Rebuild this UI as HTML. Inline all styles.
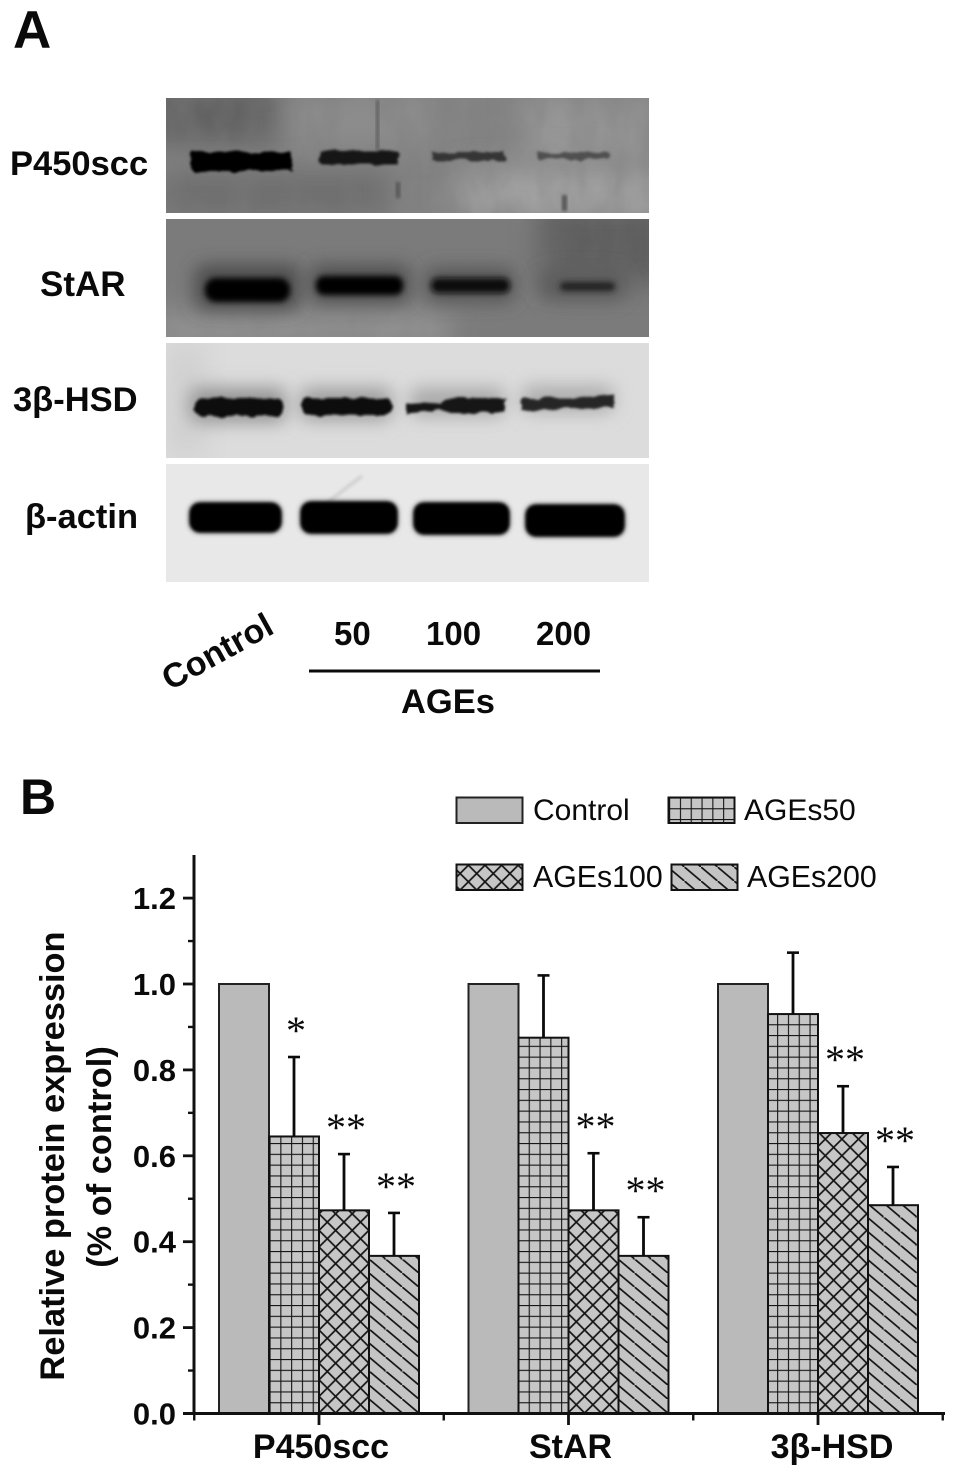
<!DOCTYPE html>
<html lang="en">
<head>
<meta charset="utf-8">
<title>Western blot and relative protein expression</title>
<style>
html,body{margin:0;padding:0;background:#fff;width:956px;height:1474px;overflow:hidden}
svg{display:block}
text{font-family:"Liberation Sans","DejaVu Sans",sans-serif;fill:#0a0a0a}
.b{font-weight:700}
</style>
</head>
<body>
<svg id="figure" xmlns="http://www.w3.org/2000/svg" width="956" height="1474" viewBox="0 0 956 1474">
<defs>
  <filter id="blur1" x="-30%" y="-100%" width="160%" height="300%"><feGaussianBlur stdDeviation="1.6"/></filter>
  <filter id="blur2" x="-30%" y="-100%" width="160%" height="300%"><feGaussianBlur stdDeviation="3"/></filter>
  <filter id="blur3" x="-30%" y="-150%" width="160%" height="400%"><feGaussianBlur stdDeviation="9"/></filter>
  <filter id="blur4" x="-50%" y="-100%" width="200%" height="300%"><feGaussianBlur stdDeviation="14"/></filter>
  <filter id="rough" x="-20%" y="-100%" width="140%" height="300%">
    <feTurbulence type="fractalNoise" baseFrequency="0.07 0.12" numOctaves="2" seed="4" result="n"/>
    <feDisplacementMap in="SourceGraphic" in2="n" scale="7" result="d"/>
    <feGaussianBlur in="d" stdDeviation="1.3"/>
  </filter>
  <filter id="mottle" x="0" y="0" width="100%" height="100%">
    <feTurbulence type="fractalNoise" baseFrequency="0.035 0.02" numOctaves="3" seed="9"/>
    <feColorMatrix type="matrix" values="0 0 0 0 0.2  0 0 0 0 0.2  0 0 0 0 0.2  1.4 0 0 0 -0.45"/>
  </filter>
  <clipPath id="r1"><rect x="166" y="98" width="483" height="115"/></clipPath>
  <clipPath id="r2"><rect x="166" y="219" width="483" height="118"/></clipPath>
  <clipPath id="r3"><rect x="166" y="343" width="483" height="115"/></clipPath>
  <clipPath id="r4"><rect x="166" y="464" width="483" height="118"/></clipPath>
  <pattern id="p-grid" patternUnits="userSpaceOnUse" x="269.5" y="1413" width="10.8" height="10.8">
    <rect width="10.8" height="10.8" fill="#c6c6c6"/>
    <path d="M0 0H10.8M0 0V10.8" stroke="#141414" stroke-width="2.2"/>
  </pattern>
  <pattern id="p-cross" patternUnits="userSpaceOnUse" x="319" y="1413" width="16.6" height="16.6">
    <rect width="16.6" height="16.6" fill="#c6c6c6"/>
    <path d="M0 0L16.6 16.6M16.6 0L0 16.6" stroke="#141414" stroke-width="1.7"/>
  </pattern>
  <pattern id="p-diag" patternUnits="userSpaceOnUse" x="369" y="1413" width="16.6" height="14">
    <rect width="16.6" height="14" fill="#c4c4c4"/>
    <path d="M-1 -.85L17.6 14.85" stroke="#141414" stroke-width="1.7"/>
  </pattern>
</defs>
<rect width="956" height="1474" fill="#fff"/>

<text class="b" x="13" y="48" font-size="53">A</text>
<text class="b" x="20" y="814" font-size="50">B</text>

<g clip-path="url(#r1)">
  <rect x="166" y="98" width="483" height="115" fill="#848484"/>
  <rect x="150" y="85" width="130" height="60" fill="#626262" filter="url(#blur4)"/>
  <rect x="160" y="170" width="230" height="50" fill="#6e6e6e" filter="url(#blur4)"/>
  <rect x="290" y="95" width="150" height="50" fill="#8c8c8c" filter="url(#blur4)"/>
  <rect x="460" y="170" width="200" height="50" fill="#a2a2a2" filter="url(#blur4)"/>
  <rect x="520" y="100" width="130" height="60" fill="#989898" filter="url(#blur4)"/>
  <rect x="166" y="98" width="483" height="115" filter="url(#mottle)" opacity=".55"/>
  <rect x="376" y="100" width="3" height="50" fill="#5c5c5c" filter="url(#blur1)"/>
  <rect x="396" y="182" width="4" height="16" fill="#555" filter="url(#blur1)"/>
  <rect x="562" y="195" width="5" height="16" fill="#555" filter="url(#blur1)"/>
  <rect x="192" y="152" width="100" height="19" rx="2" fill="#050505" filter="url(#rough)"/>
  <rect x="320" y="151" width="78" height="13" rx="2" fill="#151515" filter="url(#rough)"/>
  <rect x="432" y="152" width="73" height="8" rx="2" fill="#363636" filter="url(#rough)"/>
  <rect x="537" y="153" width="73" height="6" rx="2" fill="#4f4f4f" filter="url(#rough)"/>
</g>
<g clip-path="url(#r2)">
  <rect x="166" y="219" width="483" height="118" fill="#7b7b7b"/>
  <rect x="540" y="205" width="130" height="80" fill="#5e5e5e" filter="url(#blur4)"/>
  <rect x="150" y="310" width="300" height="40" fill="#929292" filter="url(#blur4)"/>
  <rect x="166" y="219" width="483" height="118" filter="url(#mottle)" opacity=".3"/>
  <rect x="195" y="265" width="105" height="45" rx="10" fill="#4c4c4c" filter="url(#blur3)"/>
  <rect x="310" y="265" width="100" height="38" rx="10" fill="#505050" filter="url(#blur3)"/>
  <rect x="425" y="268" width="90" height="34" rx="10" fill="#555" filter="url(#blur3)"/>
  <rect x="540" y="270" width="85" height="30" rx="10" fill="#5c5c5c" filter="url(#blur3)"/>
  <rect x="205" y="278" width="85" height="24" rx="11" fill="#040404" filter="url(#blur2)"/>
  <rect x="316" y="276" width="87" height="19" rx="8" fill="#060606" filter="url(#blur2)"/>
  <rect x="431" y="278" width="79" height="15" rx="7" fill="#0a0a0a" filter="url(#blur2)"/>
  <rect x="560" y="282" width="55" height="9" rx="4" fill="#222" filter="url(#blur2)"/>
</g>
<g clip-path="url(#r3)">
  <rect x="166" y="343" width="483" height="115" fill="#dcdcdc"/>
  <rect x="166" y="343" width="40" height="115" fill="#d0d0d0" filter="url(#blur4)"/>
  <rect x="190" y="388" width="96" height="34" rx="8" fill="#929292" filter="url(#blur3)"/>
  <rect x="300" y="388" width="92" height="32" rx="8" fill="#9c9c9c" filter="url(#blur3)"/>
  <rect x="410" y="388" width="95" height="28" rx="8" fill="#a8a8a8" filter="url(#blur3)"/>
  <rect x="522" y="386" width="92" height="26" rx="8" fill="#acacac" filter="url(#blur3)"/>
  <rect x="195" y="398" width="88" height="18" rx="7" fill="#0a0a0a" filter="url(#rough)"/>
  <rect x="302" y="398" width="90" height="17" rx="7" fill="#0d0d0d" filter="url(#rough)"/>
  <path d="M405 402L440 404L450 398H506V413H450L440 410L405 413Z" fill="#151515" filter="url(#rough)"/>
  <path d="M522 398L570 398L614 394V408L570 408L522 411Z" fill="#262626" filter="url(#rough)"/>
</g>
<g clip-path="url(#r4)">
  <rect x="166" y="464" width="483" height="118" fill="#e8e8e8"/>
  <path d="M328 502L362 476" stroke="#cccccc" stroke-width="3" filter="url(#blur1)"/>
  <rect x="190" y="503" width="91" height="29" rx="10" fill="#040404" filter="url(#blur2)"/>
  <rect x="301" y="502" width="96" height="31" rx="10" fill="#040404" filter="url(#blur2)"/>
  <rect x="414" y="503" width="95" height="31" rx="10" fill="#040404" filter="url(#blur2)"/>
  <rect x="526" y="505" width="98" height="31" rx="10" fill="#040404" filter="url(#blur2)"/>
  <rect x="190" y="503" width="91" height="29" rx="10" fill="#040404" filter="url(#blur1)"/>
  <rect x="301" y="502" width="96" height="31" rx="10" fill="#040404" filter="url(#blur1)"/>
  <rect x="414" y="503" width="95" height="31" rx="10" fill="#040404" filter="url(#blur1)"/>
  <rect x="526" y="505" width="98" height="31" rx="10" fill="#040404" filter="url(#blur1)"/>
</g>

<text class="b" x="10" y="175" font-size="34.5">P450scc</text>
<text class="b" x="40" y="296" font-size="35">StAR</text>
<text class="b" x="13" y="411" font-size="34.5">3β-HSD</text>
<text class="b" x="25" y="528" font-size="34.5">β-actin</text>

<text class="b" font-size="34" transform="translate(170 691) rotate(-29)">Control</text>
<text class="b" x="334" y="645" font-size="33">50</text>
<text class="b" x="426" y="645" font-size="33">100</text>
<text class="b" x="536" y="645" font-size="33">200</text>
<rect x="309" y="669.5" width="291" height="3" fill="#0a0a0a"/>
<text class="b" x="401" y="713" font-size="34.5">AGEs</text>

<g id="chart"></g>

<g>
  <g>
    <rect x="456.5" y="797.5" width="66" height="25.5" fill="#bababa" stroke="#222" stroke-width="2"/>
    <text x="533" y="820" font-size="30">Control</text>
  </g>
  <g>
    <rect x="668.5" y="797.5" width="66" height="25.5" fill="url(#p-grid)" stroke="#111" stroke-width="2"/>
    <text x="744" y="820" font-size="30">AGEs50</text>
  </g>
  <g>
    <rect x="456.5" y="864.5" width="66" height="25.5" fill="url(#p-cross)" stroke="#111" stroke-width="2"/>
    <text x="533" y="887" font-size="30.3">AGEs100</text>
  </g>
  <g>
    <rect x="671.5" y="864.5" width="66" height="25.5" fill="url(#p-diag)" stroke="#111" stroke-width="2"/>
    <text x="747" y="887" font-size="30.3">AGEs200</text>
  </g>
</g>
</svg>
<script>
var categories = ["P450scc", "StAR", "3β-HSD"];
var controlValues = [1.0, 1.0, 1.0];
var ages50Values = [0.645, 0.875, 0.93];
var ages100Values = [0.473, 0.473, 0.653];
var ages200Values = [0.367, 0.367, 0.485];
var ages50Errors = [0.185, 0.145, 0.143];
var ages100Errors = [0.131, 0.133, 0.109];
var ages200Errors = [0.100, 0.090, 0.089];
var ages50Stars = ["*", "", ""];
var ages100Stars = ["**", "**", "**"];
var ages200Stars = ["**", "**", "**"];
var yTickValues = [0, 0.2, 0.4, 0.6, 0.8, 1.0, 1.2];
var yTickLabels = ["0.0", "0.2", "0.4", "0.6", "0.8", "1.0", "1.2"];
var yMinorValues = [0.1, 0.3, 0.5, 0.7, 0.9, 1.1];

var SVGNS = "http://www.w3.org/2000/svg";
var chart = document.getElementById("chart");
function yScale(v) { return 1413.5 - 429.5 * v; }
function xCategory(i) { return 319 + 249.5 * i; }
function make(tag, attrs, parent) {
  var n = document.createElementNS(SVGNS, tag);
  for (var k in attrs) n.setAttribute(k, attrs[k]);
  (parent || chart).appendChild(n);
  return n;
}

var seriesList = [
  { key: "control", values: controlValues, errors: null, stars: null, fill: "#bababa", stroke: "#222" },
  { key: "ages50", values: ages50Values, errors: ages50Errors, stars: ages50Stars, fill: "url(#p-grid)", stroke: "#111" },
  { key: "ages100", values: ages100Values, errors: ages100Errors, stars: ages100Stars, fill: "url(#p-cross)", stroke: "#111" },
  { key: "ages200", values: ages200Values, errors: ages200Errors, stars: ages200Stars, fill: "url(#p-diag)", stroke: "#111" }
];
var barWidth = 50;

seriesList.forEach(function (s, si) {
  s.values.forEach(function (v, ci) {
    var x = xCategory(ci) + (si - 2) * barWidth;
    var top = yScale(v);
    var bar = make("rect", { x: x, y: top, width: barWidth, height: yScale(0) - top, fill: s.fill, stroke: s.stroke, "stroke-width": 2 });
    
    
    if (s.errors) {
      var cx = x + barWidth / 2;
      var et = yScale(v + s.errors[ci]);
      var stem = make("line", { x1: cx, x2: cx, y1: top, y2: et, stroke: "#0a0a0a", "stroke-width": 2.8 });
      
      
      var cap = make("line", { x1: cx - 6, x2: cx + 6, y1: et, y2: et, stroke: "#0a0a0a", "stroke-width": 2.6 });
      
      
      if (s.stars[ci]) {
        var st = make("text", { x: cx + 2, y: et - 13, "font-size": 40, "text-anchor": "middle" });
        st.style.fontFamily = '"Liberation Serif", serif';
        st.textContent = s.stars[ci];
        
        
      }
    }
  });
});

var yAxis = make("line", { x1: 194, x2: 194, y1: 855, y2: 1415, stroke: "#111", "stroke-width": 3 });


var xAxis = make("line", { x1: 183, x2: 945, y1: 1413.5, y2: 1413.5, stroke: "#111", "stroke-width": 3 });



yTickValues.forEach(function (v, i) {
  var t = make("line", { x1: 183, x2: 194, y1: yScale(v), y2: yScale(v), stroke: "#111", "stroke-width": 2.8 });
  
  
  var l = make("text", { x: 176, y: yScale(v) + 11, "font-size": 31, "font-weight": 700, "text-anchor": "end" });
  l.textContent = yTickLabels[i];
  
  
});
yMinorValues.forEach(function (v) {
  var t = make("line", { x1: 188, x2: 194, y1: yScale(v), y2: yScale(v), stroke: "#111", "stroke-width": 2.4 });
  
  
});

function labelNudge(i) { return i === 2 ? 14 : 2; }
categories.forEach(function (c, i) {
  var x = xCategory(i);
  var t = make("line", { x1: x, x2: x, y1: 1413.5, y2: 1425, stroke: "#111", "stroke-width": 2.8 });
  
  
  var l = make("text", { x: x + labelNudge(i), y: 1458, "font-size": 34, "font-weight": 700, "text-anchor": "middle" });
  l.textContent = c;
  
  
});
for (var m = 0; m <= categories.length; m++) {
  var mx = xCategory(m) - 124.75;
  var mt = make("line", { x1: mx, x2: mx, y1: 1413.5, y2: 1420.5, stroke: "#111", "stroke-width": 2.4 });
  
  
}

var yTitle1 = make("text", { transform: "translate(64 1156) rotate(-90)", "font-size": 34.4, "font-weight": 700, "text-anchor": "middle" });
yTitle1.textContent = "Relative protein expression";


var yTitle2 = make("text", { transform: "translate(111 1157) rotate(-90)", "font-size": 34.4, "font-weight": 700, "text-anchor": "middle" });
yTitle2.textContent = "(% of control)";


</script>
</body>
</html>
